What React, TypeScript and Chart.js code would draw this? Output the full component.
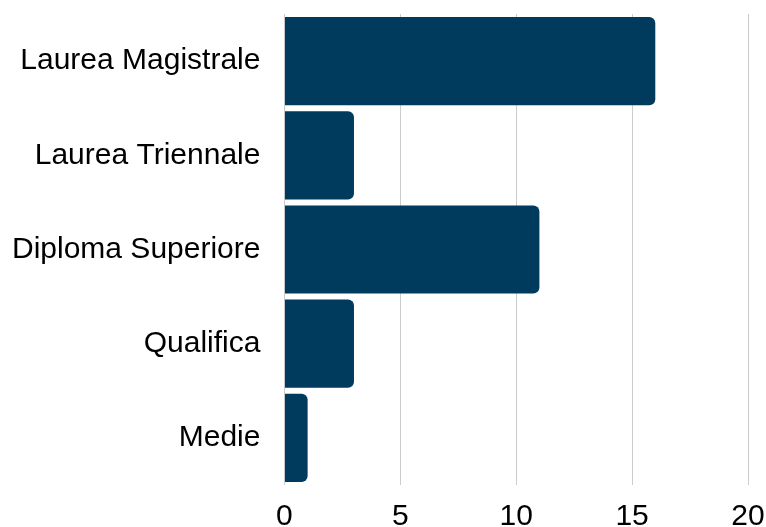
import React, { useEffect, useRef } from "react";
import { Chart, registerables } from "chart.js";

Chart.register(...registerables);

const categories = ["Laurea Magistrale", "Laurea Triennale", "Diploma Superiore", "Qualifica", "Medie"];
const values = [16, 3, 11, 3, 1];
const tickValues = [0, 5, 10, 15, 20];

export default function App() {
  const ref = useRef<HTMLCanvasElement>(null);
  useEffect(() => {
    if (!ref.current) return;
    const chart = new Chart(ref.current, {
      type: "bar",
      data: {
        labels: categories,
        datasets: [
          {
            data: values,
            backgroundColor: "#003B5E",
            borderRadius: 6,
            borderSkipped: "start",
            categoryPercentage: 1,
            barPercentage: 0.936,
          },
        ],
      },
      options: {
        indexAxis: "y",
        animation: false,
        responsive: false,
        maintainAspectRatio: false,
        layout: { padding: { top: 14, bottom: -22, left: -12, right: 18 } },
        plugins: { legend: { display: false }, tooltip: { enabled: false } },
        scales: {
          x: {
            min: 0,
            max: 20,
            afterBuildTicks: (axis: any) => {
              axis.ticks = tickValues.map((v) => ({ value: v }));
            },
            afterFit: (axis: any) => {
              axis.paddingRight = 0;
            },
            grid: { color: "#cccccc", lineWidth: 1, drawTicks: false },
            border: { display: false },
            ticks: {
              color: "#000000",
              padding: 14,
              font: { family: "'Liberation Sans', Arial, sans-serif", size: 30 },
            },
          },
          y: {
            afterFit: (axis: any) => {
              axis.paddingTop = 0;
              axis.paddingBottom = 0;
            },
            grid: { display: false, drawTicks: false },
            border: { display: false },
            ticks: {
              color: "#000000",
              padding: 24,
              font: { family: "'Liberation Sans', Arial, sans-serif", size: 30 },
            },
          },
        },
      },
    });
    return () => chart.destroy();
  }, []);
  return (
    <div style={{ position: "absolute", left: 0, top: 0, width: 766, height: 527 }}>
      <canvas ref={ref} width={766} height={527} style={{ display: "block" }} />
    </div>
  );
}
